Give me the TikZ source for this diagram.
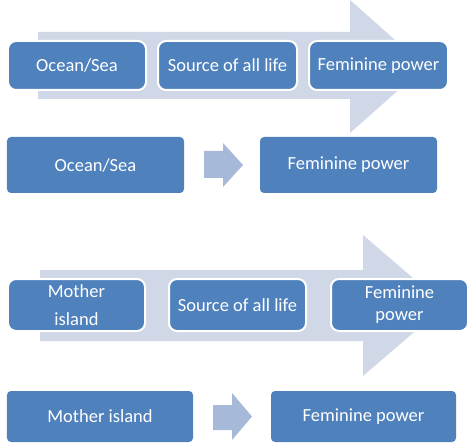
\documentclass[tikz,border=0pt]{standalone}
\usepackage{fontspec}
\setmainfont{Carlito}
\definecolor{boxblue}{RGB}{79,129,189}
\definecolor{bigarrow}{RGB}{208,216,232}
\definecolor{smallarrow}{RGB}{167,185,216}
\tikzset{
  txt/.style={text=white, font=\fontsize{18.5bp}{22bp}\selectfont, inner sep=0pt, align=center},
  flowbox/.style={txt, fill=boxblue, draw=white, line width=2bp, rounded corners=8bp, minimum height=49bp},
  plainbox/.style={txt, fill=boxblue, rounded corners=4bp},
  bigarr/.style={fill=bigarrow},
  smallarr/.style={fill=smallarrow}
}
\begin{document}
\begin{tikzpicture}[x=1bp, y=-1bp]
\useasboundingbox (0,0) rectangle (472,448);
% ---- section 1 ----
\fill[bigarr] (38,32) -- (350,32) -- (350,0) -- (425,66.5) -- (350,133) -- (350,99) -- (38,99) -- cycle;
\node[flowbox, minimum width=138bp] (a1) at (77,65.5) {Ocean/Sea};
\node[flowbox, minimum width=139bp] (a2) at (227.5,65.5) {Source of all life};
\node[flowbox, minimum width=139bp] (a3) at (378.5,65.5) {Feminine power};
\node[plainbox, minimum width=177bp, minimum height=56bp] (b1) at (95.5,165) {Ocean/Sea};
\node[plainbox, minimum width=177bp, minimum height=56bp] (b2) at (348.5,165) {Feminine power};
\fill[smallarr] (204,151) -- (223,151) -- (223,143) -- (243,165) -- (223,187) -- (223,178) -- (204,178) -- cycle;
% ---- section 2 ----
\fill[bigarr] (40,270) -- (363,270) -- (363,235) -- (445,305.5) -- (363,376) -- (363,341) -- (40,341) -- cycle;
\node[flowbox, minimum width=137bp, minimum height=52bp] (c1) at (76.5,305) {Mother\\[6bp]island};
\node[flowbox, minimum width=137bp, minimum height=52bp] (c2) at (237.5,305) {Source of all life};
\node[flowbox, minimum width=137bp, minimum height=52bp] (c3) at (399.5,305) {Feminine\\power};
\node[plainbox, minimum width=186bp, minimum height=51bp] (d1) at (100,416.5) {Mother island};
\node[plainbox, minimum width=185bp, minimum height=51bp] (d2) at (363.5,416.5) {Feminine power};
\fill[smallarr] (213,405) -- (232,405) -- (232,393) -- (252,416.5) -- (232,440) -- (232,430) -- (213,430) -- cycle;
\end{tikzpicture}
\end{document}
